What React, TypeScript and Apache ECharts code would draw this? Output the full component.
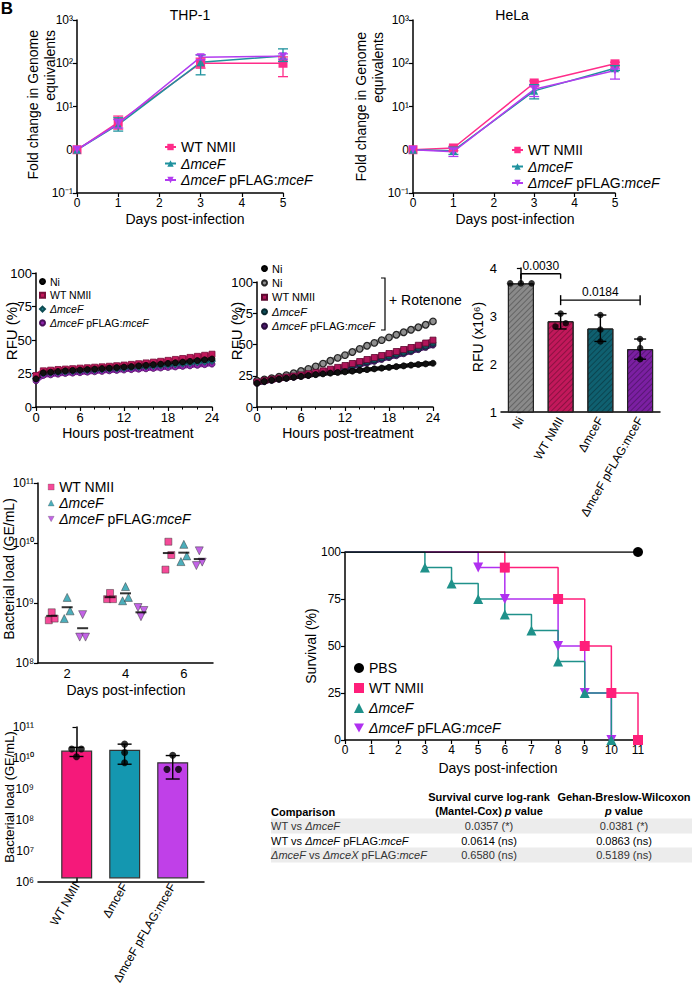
import React, { useEffect, useRef } from 'react';
import * as echarts from 'echarts';

const FONT = '"Liberation Sans", Arial, Helvetica, sans-serif';

// ---------- Panels A & B: fold change in genome equivalents ----------
const gDays = [0, 1, 3, 5];
const thpWT = [1, 4.3, 100, 100];
const thpWTLo = [1, 3.0, 77, 49];
const thpWTHi = [1, 6.0, 131, 140];
const thpKO = [1, 3.8, 105, 148];
const thpKOLo = [1, 2.7, 54, 110];
const thpKOHi = [1, 5.5, 155, 215];
const thpComp = [1, 4.0, 138, 145];
const thpCompLo = [1, 3.2, 120, 125];
const thpCompHi = [1, 5.0, 158, 165];

const helaWT = [1, 1.1, 35, 97];
const helaWTLo = [1, 0.95, 31, 90];
const helaWTHi = [1, 1.2, 39, 106];
const helaKO = [1, 0.95, 23, 77];
const helaKOLo = [1, 0.78, 15, 68];
const helaKOHi = [1, 1.15, 32, 88];
const helaComp = [1, 0.9, 25, 68];
const helaCompLo = [1, 0.7, 17, 43];
const helaCompHi = [1, 1.1, 30, 74];

// ---------- Panel C: RFU time courses (hourly readings) ----------
const hours = [0, 1, 2, 3, 4, 5, 6, 7, 8, 9, 10, 11, 12, 13, 14, 15, 16, 17, 18, 19, 20, 21, 22, 23, 24];
const c1Ni = [21, 25.5, 26, 26.5, 27, 27.3, 27.6, 28, 28.3, 28.7, 29, 29.4, 29.8, 30.2, 30.7, 31.1, 31.6, 32, 32.5, 33, 33.5, 34, 34.6, 35.2, 35.8];
const c1WT = [23.5, 27, 27.5, 28, 28.3, 28.6, 29, 29.3, 29.7, 30, 30.4, 30.8, 31.3, 31.8, 32.3, 32.9, 33.5, 34.1, 34.8, 35.5, 36.2, 37, 37.8, 38.6, 39.4];
const c1KO = [21, 25, 25.5, 26, 26.3, 26.6, 27, 27.3, 27.6, 28, 28.3, 28.6, 29, 29.4, 29.8, 30.2, 30.6, 31, 31.4, 31.8, 32.3, 32.8, 33.3, 33.8, 34.3];
const c1Comp = [19.5, 23.5, 24, 24.5, 25, 25.3, 25.6, 26, 26.3, 26.6, 27, 27.3, 27.6, 27.9, 28.2, 28.5, 28.8, 29.1, 29.5, 29.9, 30.3, 30.7, 31.1, 31.6, 32];

const c2Ni = [19, 20.5, 21.5, 22.3, 23, 23.8, 24.5, 25.2, 25.9, 26.5, 27.1, 27.6, 28.1, 28.7, 29.3, 29.9, 30.5, 31.1, 31.7, 32.3, 32.9, 33.5, 34, 34.5, 35];
const c2NiRot = [21, 22, 23, 24.2, 25.5, 27, 28.8, 30.5, 32.5, 34.7, 37, 39.3, 41.5, 44, 46.5, 49, 51.3, 53.5, 55.7, 57.8, 59.8, 61.8, 63.8, 65.8, 68.5];
const c2WT = [20, 21.2, 22.2, 23.1, 24, 24.8, 25.7, 26.6, 27.7, 28.9, 30.3, 31.7, 33.2, 34.8, 36.4, 38, 39.6, 41.2, 42.8, 44.4, 46, 47.6, 49.4, 51.2, 53.5];
const c2KO = [19.5, 20.7, 21.7, 22.6, 23.4, 24.2, 25, 25.8, 26.8, 27.9, 29.1, 30.4, 31.8, 33.2, 34.7, 36.2, 37.7, 39.2, 40.7, 42.2, 43.7, 45.3, 47, 48.8, 51];
const c2Comp = [19, 20.2, 21.2, 22.1, 22.9, 23.7, 24.5, 25.3, 26.2, 27.2, 28.3, 29.5, 30.8, 32.2, 33.6, 35, 36.5, 38, 39.5, 41, 42.6, 44.2, 45.9, 47.6, 49.5];

// ---------- Panel C3: RFU bars ----------
const rfuGroups = ['Ni', 'WT NMII', 'ΔmceF', 'ΔmceF pFLAG:mceF'];
const rfuMeans = [3.68, 2.89, 2.74, 2.31];
const rfuPoints = [[3.68, 3.68, 3.68], [2.78, 3.05, 2.85], [3.02, 2.72, 2.47], [2.52, 2.33, 2.10]];
const rfuSdLo = [3.68, 2.73, 2.47, 2.10];
const rfuSdHi = [3.68, 3.05, 3.02, 2.52];
const rfuSigPairs = [[0, 1, 3.88], [1, 3, 3.33]];
const rfuSigLabels = ['0.0030', '0.0184'];

// ---------- Panel D: bacterial load over time ----------
const loadDays = [2, 4, 6];
const loadWT = [[5.15e8, 7.0e8, 5.5e8], [1.16e9, 1.47e9, 1.16e9], [3.6e9, 1.05e10, 6.3e9]];
const loadKO = [[5.5e8, 1.24e9, 7.4e8], [1.09e9, 1.88e9, 1.24e9], [4.9e9, 9.5e9, 6.1e9]];
const loadComp = [[2.7e8, 6.4e8, 2.7e8], [8.4e8, 5.9e8, 7.5e8], [4.2e9, 7.4e9, 4.8e9]];
const loadWTMean = [6.1e8, 1.25e9, 6.8e9];
const loadKOMean = [8.5e8, 1.45e9, 6.9e9];
const loadCompMean = [3.8e8, 7.0e8, 5.4e9];

// ---------- Panel E: bacterial load bars ----------
const organGroups = ['WT NMII', 'ΔmceF', 'ΔmceF pFLAG:mceF'];
const organMeans = [1.65e10, 1.75e10, 6.8e9];
const organPoints = [[1.95e10, 1.1e10, 1.95e10], [2.8e10, 1.5e10, 7.0e9], [4.3e9, 1.22e10, 4.3e9]];
const organLo = [1.12e10, 6.3e9, 2.1e9];
const organHi = [2.2e10, 2.8e10, 1.2e10];

// ---------- Panel F: survival ----------
const survPBS = [[0, 100], [11, 100]];
const survWT = [[0, 100], [6, 91.7], [8, 75], [9, 50], [10, 25], [11, 0]];
const survKO = [[0, 100], [3, 91.7], [4, 83.3], [5, 75], [6, 66.7], [7, 58.3], [8, 41.7], [9, 25], [10, 0]];
const survComp = [[0, 100], [5, 91.7], [6, 75], [8, 50], [9, 25], [10, 0]];

// ---------- Table ----------
const tableComparisons = ['WT vs ΔmceF', 'WT vs ΔmceF pFLAG:mceF', 'ΔmceF vs ΔmceX pFLAG:mceF'];
const tableLogRank = ['0.0357 (*)', '0.0614 (ns)', '0.6580 (ns)'];
const tableGehan = ['0.0381 (*)', '0.0863 (ns)', '0.5189 (ns)'];

// ---------- helpers ----------
const DOWN_TRI = 'path://M0,0L10,0L5,9Z';
const SUP: Record<string, string> = { '-': '⁻', '0': '⁰', '1': '¹', '2': '²', '3': '³', '4': '⁴', '5': '⁵', '6': '⁶', '7': '⁷', '8': '⁸', '9': '⁹' };
const pow10 = (v: number) => {
  const e = Math.round(Math.log10(v));
  return '10' + String(e).split('').map((c) => SUP[c]).join('');
};
const foldLabel = (v: number) => (Math.round(Math.log10(v)) === 0 ? '0' : pow10(v));

const axLine = { show: true, lineStyle: { color: '#000', width: 1.5 } };
const axTick = { show: true, length: 4, inside: false, lineStyle: { color: '#000', width: 1.2 } };
const lbl = (extra: any = {}) => ({ color: '#000', fontSize: 12, fontFamily: FONT, margin: 4, ...extra });
const noSplit = { show: false };

const valAxis = (gridIndex: number, min: number, max: number, interval: number, extra: any = {}) => ({
  type: 'value', gridIndex, min, max, interval, axisLine: axLine, axisTick: axTick, axisLabel: lbl(), splitLine: noSplit, ...extra,
});
const logAxis = (gridIndex: number, min: number, max: number, formatter: any) => ({
  type: 'log', logBase: 10, gridIndex, min, max, axisLine: axLine, axisTick: axTick,
  axisLabel: lbl({ formatter }), splitLine: noSplit, minorTick: { show: false }, minorSplitLine: { show: false },
});

const legendFmt = (name: string) => {
  const base = name.split('#')[0];
  return base.replace('ΔmceF', '{i|ΔmceF}').replace(':mceF', ':{i|mceF}');
};
const leg = (id: string, left: number, top: number, size: number, gap: number, iw: number, ih: number, data: any[], extra: any = {}) => ({
  id, left, top, orient: 'vertical', itemWidth: iw, itemHeight: ih, itemGap: gap, padding: 0, selectedMode: false, data,
  formatter: legendFmt,
  textStyle: { fontSize: size, fontFamily: FONT, color: '#000', rich: { i: { fontStyle: 'italic', fontSize: size, fontFamily: FONT, color: '#000' } } },
  ...extra,
});

const lineS = (name: string, xi: number, yi: number, xs: number[], ys: number[], color: string, symbol: string, rot = 0, size = 8) => ({
  type: 'line', name, xAxisIndex: xi, yAxisIndex: yi, data: xs.map((x, i) => [x, ys[i]]),
  symbol, symbolSize: size, symbolRotate: rot, lineStyle: { color, width: 1.5 }, itemStyle: { color }, z: 4,
});

const errS = (name: string, xi: number, yi: number, xs: number[], lo: number[], hi: number[], color: string, cap = 5, w = 1.3) => ({
  type: 'custom', name, xAxisIndex: xi, yAxisIndex: yi, silent: true, z: 5,
  encode: { x: 0, y: [1, 2] },
  data: xs.map((x, i) => [x, lo[i], hi[i]]).filter((d) => d[1] !== d[2]),
  renderItem: (params: any, api: any) => {
    const x = api.value(0);
    const a = api.coord([x, api.value(1)]);
    const b = api.coord([x, api.value(2)]);
    const st = { stroke: color, lineWidth: w };
    return {
      type: 'group',
      children: [
        { type: 'line', shape: { x1: a[0], y1: a[1], x2: b[0], y2: b[1] }, style: st },
        { type: 'line', shape: { x1: a[0] - cap, y1: a[1], x2: a[0] + cap, y2: a[1] }, style: st },
        { type: 'line', shape: { x1: b[0] - cap, y1: b[1], x2: b[0] + cap, y2: b[1] }, style: st },
      ],
    };
  },
});

const tsS = (name: string, xi: number, yi: number, ys: number[], color: string, border: string, symbol = 'circle', size = 6, bw = 0.8) => ({
  type: 'line', name, xAxisIndex: xi, yAxisIndex: yi, data: hours.map((h, i) => [h, ys[i]]),
  symbol, symbolSize: size, showSymbol: true, lineStyle: { color, width: 4.5 },
  itemStyle: { color, borderColor: border, borderWidth: bw }, z: 3,
});

const survS = (name: string, pts: number[][], color: string, symbol: string, rot = 0) => ({
  type: 'line', name, xAxisIndex: 9, yAxisIndex: 8, step: 'end',
  data: pts.map((p, i) => (i === 0 ? { value: p, symbol: 'none' } : p)),
  symbol, symbolSize: 10, symbolRotate: rot, lineStyle: { color, width: 1.5 }, itemStyle: { color }, z: 4,
});

const txt = (text: string, x: number, y: number, o: any = {}) => ({
  type: 'text', x, y, rotation: o.rot || 0, silent: true,
  style: {
    text, fill: o.color || '#000', fontSize: o.size || 14, fontFamily: FONT, fontWeight: o.weight || 'normal',
    align: o.align || 'center', textAlign: o.align || 'center',
    verticalAlign: o.va || 'middle', textVerticalAlign: o.va || 'middle',
    rich: o.rich,
  },
});

const italicRich = (size: number, color: string, weight = 'normal') => ({
  i: { fontStyle: 'italic', fontSize: size, fontFamily: FONT, fill: color, fontWeight: weight },
});
const italicize = (s: string) => s.replace(/Δmce[FX]/g, '{i|$&}').replace(/:mceF/, ':{i|mceF}');

function buildOption() {
  const PINK = '#ff2d8a', TEAL = '#1f929e', PURPLE = '#b23cf0';
  const grid = [
    { left: 77, top: 20, width: 206, height: 173 }, // A
    { left: 413, top: 20, width: 202, height: 173 }, // B
    { left: 36, top: 273, width: 176, height: 134 }, // C1
    { left: 257, top: 282, width: 176, height: 125 }, // C2
    { left: 501, top: 268, width: 159, height: 144 }, // C3
    { left: 38, top: 483, width: 175, height: 180 }, // D
    { left: 38, top: 727, width: 166, height: 155 }, // E axes
    { left: 52.7, top: 727, width: 144, height: 155 }, // E categories
    { left: 345, top: 552, width: 293, height: 188 }, // F
  ];

  const minor = { show: true, splitNumber: 3, length: 2.5, lineStyle: { color: '#000', width: 1 } };
  const xAxis = [
    valAxis(0, 0, 5, 1),
    valAxis(1, 0, 5, 1),
    valAxis(2, 0, 24, 6, { minorTick: minor, axisLabel: lbl({ fontSize: 13 }) }),
    valAxis(3, 0, 24, 6, { minorTick: minor, axisLabel: lbl({ fontSize: 13 }) }),
    { type: 'category', gridIndex: 4, data: rfuGroups, axisLine: axLine, axisTick: { show: false }, axisLabel: lbl({ rotate: 60, margin: 6, interval: 0 }) },
    { type: 'value', gridIndex: 4, min: -0.5, max: 3.5, show: false },
    valAxis(5, 1, 7, 1, { axisTick: { show: false }, axisLabel: lbl({ fontSize: 13, formatter: (v: number) => (v % 2 === 0 ? String(v) : '') }) }),
    { type: 'value', gridIndex: 6, min: -0.8, max: 2.65, axisLine: axLine, axisTick: { show: false }, axisLabel: { show: false }, splitLine: noSplit },
    { type: 'category', gridIndex: 7, data: organGroups, axisLine: { show: false }, axisTick: { show: false }, axisLabel: lbl({ rotate: 60, margin: 6, interval: 0 }) },
    valAxis(8, 0, 11, 1),
  ];
  const yAxis = [
    logAxis(0, 0.1, 1000, foldLabel),
    logAxis(1, 0.1, 1000, foldLabel),
    valAxis(2, 0, 100, 25, { axisLabel: lbl({ fontSize: 13 }) }),
    valAxis(3, 0, 100, 25, { axisLabel: lbl({ fontSize: 13 }) }),
    valAxis(4, 1, 4, 1, { axisLabel: lbl({ fontSize: 13 }) }),
    logAxis(5, 1e8, 1e11, pow10),
    logAxis(6, 1e6, 1e11, pow10),
    { type: 'log', logBase: 10, gridIndex: 7, min: 1e6, max: 1e11, show: false },
    valAxis(8, 0, 100, 25),
  ];

  const series: any[] = [];
  // A
  series.push(errS('eA1', 0, 0, gDays, thpWTLo, thpWTHi, PINK));
  series.push(errS('eA2', 0, 0, gDays, thpKOLo, thpKOHi, TEAL));
  series.push(errS('eA3', 0, 0, gDays, thpCompLo, thpCompHi, PURPLE));
  series.push(lineS('WT NMII#A', 0, 0, gDays, thpWT, PINK, 'rect', 0, 9));
  series.push(lineS('ΔmceF#A', 0, 0, gDays, thpKO, TEAL, 'triangle'));
  series.push(lineS('ΔmceF pFLAG:mceF#A', 0, 0, gDays, thpComp, PURPLE, 'triangle', 180));
  // B
  series.push(errS('eB1', 1, 1, gDays, helaWTLo, helaWTHi, PINK));
  series.push(errS('eB2', 1, 1, gDays, helaKOLo, helaKOHi, TEAL));
  series.push(errS('eB3', 1, 1, gDays, helaCompLo, helaCompHi, PURPLE));
  series.push(lineS('WT NMII#B', 1, 1, gDays, helaWT, PINK, 'rect', 0, 9));
  series.push(lineS('ΔmceF#B', 1, 1, gDays, helaKO, TEAL, 'triangle'));
  series.push(lineS('ΔmceF pFLAG:mceF#B', 1, 1, gDays, helaComp, PURPLE, 'triangle', 180));
  // C1
  series.push(tsS('ΔmceF pFLAG:mceF#C1', 2, 2, c1Comp, '#8e24aa', '#4a0f5c'));
  series.push(tsS('ΔmceF#C1', 2, 2, c1KO, '#1b7f8c', '#0d4b52', 'diamond', 7));
  series.push(tsS('WT NMII#C1', 2, 2, c1WT, '#c2185b', '#7a0e3a', 'rect', 6));
  series.push(tsS('Ni#C1', 2, 2, c1Ni, '#111', '#000'));
  // C2
  series.push(tsS('Ni#C2r', 3, 3, c2NiRot, '#8f8f8f', '#262626', 'circle', 6.5, 1.3));
  series.push(tsS('ΔmceF pFLAG:mceF#C2', 3, 3, c2Comp, '#4d1a6e', '#2a0d3d'));
  series.push(tsS('ΔmceF#C2', 3, 3, c2KO, '#0f4f5a', '#07292f'));
  series.push(tsS('WT NMII#C2', 3, 3, c2WT, '#b0155a', '#5c0a30', 'rect', 6));
  series.push(tsS('Ni#C2', 3, 3, c2Ni, '#111', '#000'));
  // C3
  const rfuColors = ['#8a8a8a', '#c2185b', '#0f6070', '#7b1fa2'];
  series.push({
    type: 'bar', name: 'rfuBars', xAxisIndex: 4, yAxisIndex: 4, barWidth: 26, z: 2,
    data: rfuMeans.map((v, i) => ({
      value: v,
      itemStyle: {
        color: rfuColors[i], borderColor: '#222', borderWidth: 1,
        decal: { symbol: 'rect', symbolSize: 1, dashArrayX: [[1, 0]], dashArrayY: [1, 2.2], rotation: -Math.PI / 4, color: 'rgba(0,0,0,0.28)' },
      },
    })),
  });
  const rfuJit = [[-0.27, 0, 0.27], [-0.13, 0, 0.13], [0, 0, 0], [0, 0, 0]];
  series.push(errS('rfuErr', 5, 4, [0, 1, 2, 3], rfuSdLo, rfuSdHi, '#000', 6, 1.4));
  series.push({
    type: 'scatter', name: 'rfuPts', xAxisIndex: 5, yAxisIndex: 4, symbolSize: 6.5, itemStyle: { color: '#000' }, z: 6,
    data: rfuPoints.flatMap((arr, i) => arr.map((v, j) => [i + rfuJit[i][j], v])),
  });
  series.push({
    type: 'custom', name: 'rfuSig', xAxisIndex: 5, yAxisIndex: 4, silent: true, z: 6,
    encode: { x: [0, 1], y: 2 },
    data: rfuSigPairs,
    renderItem: (params: any, api: any) => {
      const i = params.dataIndex;
      const a = api.coord([api.value(0), api.value(2)]);
      const b = api.coord([api.value(1), api.value(2)]);
      const up = i === 1 ? 5 : 0;
      const st = { stroke: '#000', lineWidth: 1.4 };
      return {
        type: 'group',
        children: [
          { type: 'line', shape: { x1: a[0], y1: a[1], x2: b[0], y2: b[1] }, style: st },
          { type: 'line', shape: { x1: a[0], y1: a[1] - up, x2: a[0], y2: a[1] + 5 }, style: st },
          { type: 'line', shape: { x1: b[0], y1: b[1] - up, x2: b[0], y2: b[1] + 5 }, style: st },
          {
            type: 'text',
            style: {
              text: rfuSigLabels[i], x: (a[0] + b[0]) / 2, y: a[1] - 2, fill: '#000', fontSize: 12, fontFamily: FONT,
              align: 'center', textAlign: 'center', verticalAlign: 'bottom', textVerticalAlign: 'bottom',
            },
          },
        ],
      };
    },
  });
  // D
  const dJit = [-0.1, 0, 0.1];
  const dGroups = [
    { name: 'WT NMII#D', vals: loadWT, mean: loadWTMean, off: -0.53, color: '#f21d7e', symbol: 'rect', rot: 0, size: 7 },
    { name: 'ΔmceF#D', vals: loadKO, mean: loadKOMean, off: 0, color: '#1f9aaa', symbol: 'triangle', rot: 0, size: 8 },
    { name: 'ΔmceF pFLAG:mceF#D', vals: loadComp, mean: loadCompMean, off: 0.53, color: '#b43de0', symbol: 'triangle', rot: 180, size: 8 },
  ];
  dGroups.forEach((g) => {
    series.push({
      type: 'scatter', name: g.name, xAxisIndex: 6, yAxisIndex: 5, symbol: g.symbol, symbolSize: g.size, symbolRotate: g.rot,
      itemStyle: { color: g.color, borderColor: '#333', borderWidth: 0.6 }, z: 4,
      data: loadDays.flatMap((d, k) => g.vals[k].map((v, j) => [d + g.off + dJit[j], v])),
    });
    series.push({
      type: 'scatter', name: 'mean' + g.name, xAxisIndex: 6, yAxisIndex: 5, symbol: 'rect', symbolSize: [11, 2], z: 5,
      itemStyle: { color: '#000' }, data: loadDays.map((d, k) => [d + g.off, g.mean[k]]),
    });
  });
  // E
  const organColors = ['#f5197a', '#1497b0', '#c040e8'];
  series.push({
    type: 'bar', name: 'organBars', xAxisIndex: 8, yAxisIndex: 7, barWidth: 31, z: 2, clip: true,
    data: organMeans.map((v, i) => ({ value: v, itemStyle: { color: organColors[i], borderColor: '#333', borderWidth: 1.2 } })),
  });
  series.push(errS('organErr', 7, 6, [0, 1, 2], organLo, organHi, '#000', 7, 1.4));
  const eJit = [[-0.1, 0, 0.1], [0, 0, 0], [-0.12, 0, 0.12]];
  series.push({
    type: 'scatter', name: 'organPts', xAxisIndex: 7, yAxisIndex: 6, symbolSize: 7, itemStyle: { color: '#000' }, z: 6,
    data: organPoints.flatMap((arr, i) => arr.map((v, j) => [i + eJit[i][j], v])),
  });
  // F
  series.push(survS('WT NMII#F', survWT, '#ff1f7a', 'rect'));
  series.push(survS('ΔmceF pFLAG:mceF#F', survComp, '#b030f0', 'triangle', 180));
  series.push(survS('ΔmceF#F', survKO, '#1f918a', 'triangle'));
  series.push(survS('PBS#F', survPBS, '#000', 'circle'));

  const legend = [
    leg('lA', 164, 140, 14, 2.5, 11, 8, ['WT NMII#A', 'ΔmceF#A', 'ΔmceF pFLAG:mceF#A']),
    leg('lB', 511, 143, 14, 2.5, 11, 8, ['WT NMII#B', 'ΔmceF#B', 'ΔmceF pFLAG:mceF#B']),
    leg('lC1', 39, 276, 10.5, 2.8, 5, 5, [
      { name: 'Ni#C1', icon: 'circle' }, { name: 'WT NMII#C1', icon: 'rect' },
      { name: 'ΔmceF#C1', icon: 'diamond' }, { name: 'ΔmceF pFLAG:mceF#C1', icon: 'circle' },
    ]),
    leg('lC2', 261, 263, 11, 3.4, 5, 5, [
      { name: 'Ni#C2', icon: 'circle' }, { name: 'Ni#C2r', icon: 'circle' }, { name: 'WT NMII#C2', icon: 'rect' },
      { name: 'ΔmceF#C2', icon: 'circle' }, { name: 'ΔmceF pFLAG:mceF#C2', icon: 'circle' },
    ]),
    leg('lD', 48, 480, 14, 2, 6, 6, [
      { name: 'WT NMII#D', icon: 'rect' }, { name: 'ΔmceF#D', icon: 'triangle' }, { name: 'ΔmceF pFLAG:mceF#D', icon: DOWN_TRI },
    ], { itemStyle: { borderWidth: 0.3 } }),
    leg('lF', 354, 661, 14, 6, 10, 10, [
      { name: 'PBS#F', icon: 'circle' }, { name: 'WT NMII#F', icon: 'rect' },
      { name: 'ΔmceF#F', icon: 'triangle' }, { name: 'ΔmceF pFLAG:mceF#F', icon: DOWN_TRI },
    ]),
  ];

  const R90 = Math.PI / 2;
  const graphic: any[] = [
    txt('B', 7, 8, { size: 17, weight: 'bold' }),
    txt('THP-1', 190, 15, { size: 14 }),
    txt('HeLa', 512, 15, { size: 14 }),
    txt('Fold change in Genome', 33, 30, { rot: R90, align: 'right', size: 14 }),
    txt('equivalents', 50, 30, { rot: R90, align: 'right', size: 14 }),
    txt('Fold change in Genome', 361, 32, { rot: R90, align: 'right', size: 14 }),
    txt('equivalents', 378, 32, { rot: R90, align: 'right', size: 14 }),
    txt('Days post-infection', 185, 219, { size: 14 }),
    txt('Days post-infection', 515, 219, { size: 14 }),
    txt('RFU (%)', 11, 331, { rot: R90, size: 15 }),
    txt('RFU (%)', 236, 331, { rot: R90, size: 15 }),
    txt('Hours post-treatment', 128, 433, { size: 14 }),
    txt('Hours post-treatment', 348, 433, { size: 14 }),
    { type: 'polyline', silent: true, shape: { points: [[381, 278], [385, 278], [385, 330], [381, 330]] }, style: { stroke: '#000', lineWidth: 1.2, fill: null } },
    txt('+ Rotenone', 389, 300, { size: 14, align: 'left' }),
    txt('RFU (x10⁶)', 478, 337, { rot: R90, size: 14 }),
    txt('Bacterial load (GE/mL)', 9, 569, { rot: R90, size: 14 }),
    txt('Days post-infection', 126, 690, { size: 14 }),
    txt('Bacterial load (GE/mL)', 9, 797, { rot: R90, size: 13 }),
    txt('Survival (%)', 311, 646, { rot: R90, size: 14 }),
    txt('Days post-infection', 498, 768, { size: 14 }),
    // table
    { type: 'rect', silent: true, shape: { x: 271, y: 818.5, width: 421, height: 15 }, style: { fill: '#ececec' } },
    { type: 'rect', silent: true, shape: { x: 271, y: 847.5, width: 421, height: 15 }, style: { fill: '#ececec' } },
    txt('Comparison', 271, 812, { size: 11, weight: 'bold', align: 'left' }),
    txt('Survival curve log-rank', 489, 797, { size: 11, weight: 'bold' }),
    txt('(Mantel-Cox) {i|p} value', 489, 811, { size: 11, weight: 'bold', rich: italicRich(11, '#000', 'bold') }),
    txt('Gehan-Breslow-Wilcoxon', 624, 797, { size: 11, weight: 'bold' }),
    txt('{i|p} value', 624, 811, { size: 11, weight: 'bold', rich: italicRich(11, '#000', 'bold') }),
  ];
  const rowY = [826, 841, 855];
  tableComparisons.forEach((c, i) => {
    const col = i === 1 ? '#000' : '#333';
    graphic.push(txt(italicize(c), 271, rowY[i], { size: 11, align: 'left', color: col, rich: italicRich(11, col) }));
    graphic.push(txt(tableLogRank[i], 489, rowY[i], { size: 11, color: col }));
    graphic.push(txt(tableGehan[i], 624, rowY[i], { size: 11, color: col }));
  });

  return {
    animation: false,
    backgroundColor: '#fff',
    textStyle: { fontFamily: FONT },
    grid,
    xAxis,
    yAxis,
    legend,
    series,
    graphic: { elements: graphic },
  };
}

export default function App() {
  const ref = useRef<HTMLDivElement>(null);
  useEffect(() => {
    const chart = echarts.init(ref.current as HTMLDivElement, null, { renderer: 'svg' });
    chart.setOption(buildOption() as any);
    return () => chart.dispose();
  }, []);
  return <div ref={ref} style={{ position: 'absolute', left: 0, top: 0, width: 692, height: 987, background: '#fff' }} />;
}
